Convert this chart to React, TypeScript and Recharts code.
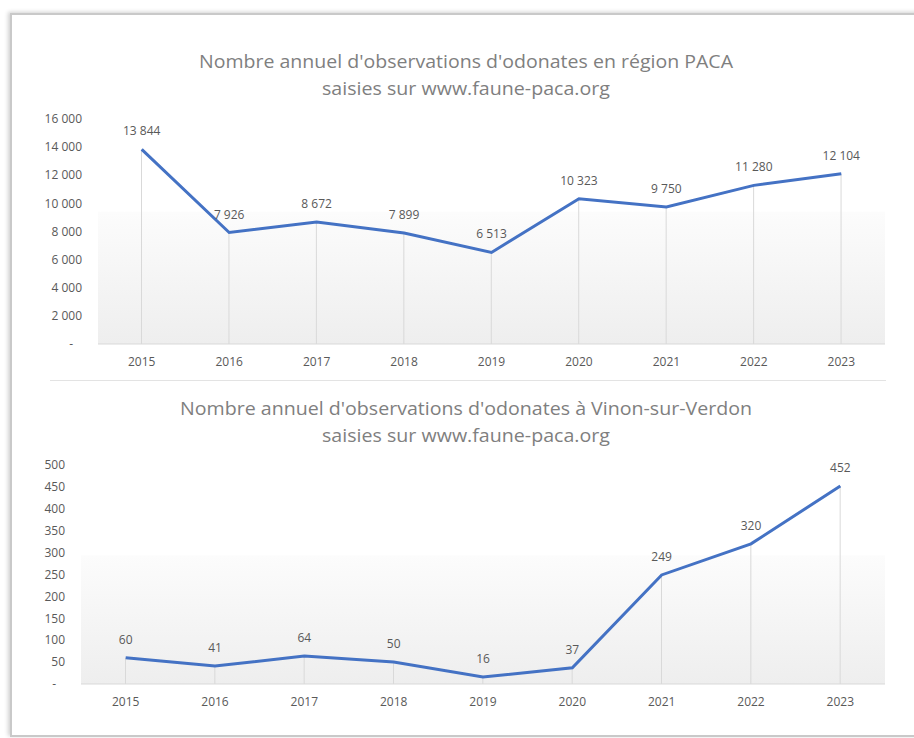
import React from "react";
import {
  ComposedChart,
  Line,
  Bar,
  XAxis,
  YAxis,
  CartesianGrid,
  LabelList,
} from "recharts";

const years = ["2015", "2016", "2017", "2018", "2019", "2020", "2021", "2022", "2023"];
const pacaCounts = [13844, 7926, 8672, 7899, 6513, 10323, 9750, 11280, 12104];
const vinonCounts = [60, 41, 64, 50, 16, 37, 249, 320, 452];
const pacaTicks = [0, 2000, 4000, 6000, 8000, 10000, 12000, 14000, 16000];
const vinonTicks = [0, 50, 100, 150, 200, 250, 300, 350, 400, 450, 500];

const pacaTitle = "Nombre annuel d'observations d'odonates en région PACA";
const vinonTitle = "Nombre annuel d'observations d'odonates à Vinon-sur-Verdon";
const subTitle = "saisies sur www.faune-paca.org";

const pacaData = years.map((y, i) => ({ year: y, value: pacaCounts[i] }));
const vinonData = years.map((y, i) => ({ year: y, value: vinonCounts[i] }));

const FONT = "'Open Sans', 'Noto Sans', sans-serif";
const TEXT_GRAY = "#595959";
const LINE_BLUE = "#4472C4";

const fmt = (v: number) =>
  Math.round(v).toString().replace(/\B(?=(\d{3})+(?!\d))/g, " ");

const YTick = (props: any) => {
  const { x, y, payload } = props;
  const v = payload.value as number;
  const isZero = v === 0;
  return (
    <text
      x={isZero ? x - 9 : x}
      y={y}
      dy="0.35em"
      textAnchor="end"
      fill={TEXT_GRAY}
      fontSize={12}
      fontFamily={FONT}
    >
      {isZero ? "-" : fmt(v)}
    </text>
  );
};

const Gradient = ({ id }: { id: string }) => (
  <defs>
    <linearGradient id={id} x1="0" y1="0" x2="0" y2="1">
      <stop offset="0%" stopColor="#ffffff" />
      <stop offset="41%" stopColor="#ffffff" />
      <stop offset="41.5%" stopColor="#fcfcfc" />
      <stop offset="100%" stopColor="#eeeeee" />
    </linearGradient>
  </defs>
);

const Titles = ({
  top,
  line1,
  line1Len,
  line2Len,
}: {
  top: number;
  line1: string;
  line1Len: number;
  line2Len: number;
}) => (
  <svg
    width={914}
    height={60}
    style={{ position: "absolute", left: 0, top, overflow: "visible" }}
  >
    <text
      x={466}
      y={21}
      textAnchor="middle"
      fontFamily={FONT}
      fontSize={18}
      fill="#7f7f7f"
      textLength={line1Len}
      lengthAdjust="spacingAndGlyphs"
    >
      {line1}
    </text>
    <text
      x={466}
      y={48}
      textAnchor="middle"
      fontFamily={FONT}
      fontSize={18}
      fill="#7f7f7f"
      textLength={line2Len}
      lengthAdjust="spacingAndGlyphs"
    >
      {subTitle}
    </text>
  </svg>
);

export default function App() {
  return (
    <div
      style={{
        position: "absolute",
        left: 0,
        top: 0,
        width: 914,
        height: 738,
        overflow: "hidden",
        background: "#ffffff",
        fontFamily: FONT,
      }}
    >
      {/* frame */}
      <div
        style={{
          position: "absolute",
          left: 10,
          top: 13,
          width: 960,
          height: 720,
          border: "2px solid #c9c9c9",
          boxShadow: "-2px -1px 4px rgba(0,0,0,0.18)",
        }}
      />

      <Titles top={47} line1={pacaTitle} line1Len={534} line2Len={288} />

      {/* top chart */}
      <div style={{ position: "absolute", left: 0, top: 100 }}>
        <ComposedChart
          width={914}
          height={280}
          data={pacaData}
          margin={{ top: 19, right: 29, bottom: 6, left: 48 }}
        >
          <Gradient id="gradTop" />
          <CartesianGrid horizontal={false} vertical={false} fill="url(#gradTop)" />
          <XAxis
            dataKey="year"
            axisLine={{ stroke: "#d9d9d9" }}
            tickLine={false}
            tickSize={0}
            tickMargin={13}
            height={30}
            tick={{ fill: TEXT_GRAY, fontSize: 12, fontFamily: FONT }}
            interval={0}
          />
          <YAxis
            domain={[0, 16000]}
            ticks={pacaTicks}
            interval={0}
            axisLine={false}
            tickLine={false}
            tickSize={0}
            tickMargin={16}
            width={50}
            tick={<YTick />}
          />
          <Bar dataKey="value" barSize={1} fill="#d9d9d9" isAnimationActive={false} />
          <Line
            type="linear"
            dataKey="value"
            stroke={LINE_BLUE}
            strokeWidth={3}
            dot={false}
            activeDot={false}
            isAnimationActive={false}
          >
            <LabelList
              dataKey="value"
              position="top"
              offset={14}
              formatter={(v: any) => fmt(Number(v))}
              fill={TEXT_GRAY}
              fontSize={12}
              fontFamily={FONT}
            />
          </Line>
        </ComposedChart>
      </div>

      {/* separator */}
      <div
        style={{
          position: "absolute",
          left: 50,
          top: 380,
          width: 836,
          height: 1,
          background: "#e3e3e3",
        }}
      />

      <Titles top={394} line1={vinonTitle} line1Len={572} line2Len={288} />

      {/* bottom chart */}
      <div style={{ position: "absolute", left: 0, top: 440 }}>
        <ComposedChart
          width={914}
          height={290}
          data={vinonData}
          margin={{ top: 25, right: 29, bottom: 16, left: 41 }}
        >
          <Gradient id="gradBottom" />
          <CartesianGrid horizontal={false} vertical={false} fill="url(#gradBottom)" />
          <XAxis
            dataKey="year"
            axisLine={{ stroke: "#d9d9d9" }}
            tickLine={false}
            tickSize={0}
            tickMargin={13}
            height={30}
            tick={{ fill: TEXT_GRAY, fontSize: 12, fontFamily: FONT }}
            interval={0}
          />
          <YAxis
            domain={[0, 500]}
            ticks={vinonTicks}
            interval={0}
            axisLine={false}
            tickLine={false}
            tickSize={0}
            tickMargin={16}
            width={40}
            tick={<YTick />}
          />
          <Bar dataKey="value" barSize={1} fill="#d9d9d9" isAnimationActive={false} />
          <Line
            type="linear"
            dataKey="value"
            stroke={LINE_BLUE}
            strokeWidth={3}
            dot={false}
            activeDot={false}
            isAnimationActive={false}
          >
            <LabelList
              dataKey="value"
              position="top"
              offset={14}
              formatter={(v: any) => fmt(Number(v))}
              fill={TEXT_GRAY}
              fontSize={12}
              fontFamily={FONT}
            />
          </Line>
        </ComposedChart>
      </div>
    </div>
  );
}
